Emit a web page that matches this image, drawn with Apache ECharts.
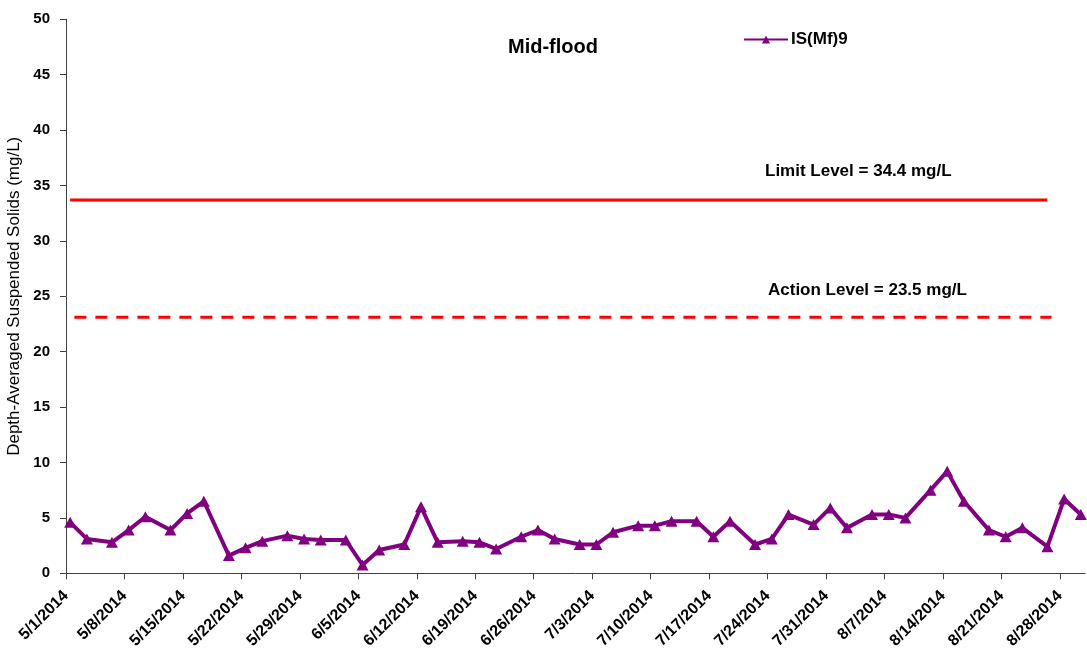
<!DOCTYPE html>
<html>
<head>
<meta charset="utf-8">
<script src="https://cdn.jsdelivr.net/npm/echarts@6/dist/echarts.min.js"></script>
<style>
html,body{margin:0;padding:0;background:#fff;}
#chart{width:1087px;height:649px;}
</style>
</head>
<body>
<div id="chart"></div>
<script>
// ---- data ----
const seriesName = "IS(Mf)9";
const dates = ["5/1/2014","5/3/2014","5/6/2014","5/8/2014","5/10/2014","5/13/2014","5/15/2014","5/17/2014","5/20/2014","5/22/2014","5/24/2014","5/27/2014","5/29/2014","5/31/2014",
  "6/3/2014","6/5/2014","6/7/2014","6/10/2014","6/12/2014","6/14/2014","6/17/2014","6/19/2014","6/21/2014","6/24/2014","6/26/2014","6/28/2014",
  "7/1/2014","7/3/2014","7/5/2014","7/8/2014","7/10/2014","7/12/2014","7/15/2014","7/17/2014","7/19/2014","7/22/2014","7/24/2014","7/26/2014","7/29/2014","7/31/2014",
  "8/2/2014","8/5/2014","8/7/2014","8/9/2014","8/12/2014","8/14/2014","8/16/2014","8/19/2014","8/21/2014","8/23/2014","8/26/2014","8/28/2014","8/30/2014"];
const values = [4.6,3.1,2.8,3.9,5.1,3.9,5.4,6.5,1.6,2.3,2.9,3.4,3.1,3.0,
  3.0,0.75,2.1,2.6,6.0,2.8,2.9,2.8,2.2,3.3,3.9,3.1,
  2.6,2.6,3.7,4.3,4.3,4.7,4.7,3.3,4.7,2.6,3.1,5.3,4.4,5.9,
  4.1,5.3,5.3,5.0,7.5,9.2,6.5,3.9,3.3,4.1,2.4,6.7,5.3];
const tickDates = ["5/1/2014","5/8/2014","5/15/2014","5/22/2014","5/29/2014","6/5/2014","6/12/2014","6/19/2014","6/26/2014","7/3/2014","7/10/2014","7/17/2014","7/24/2014","7/31/2014","8/7/2014","8/14/2014","8/21/2014","8/28/2014"];
const axisStartDate = "5/1/2014";
const axisEndDate = "8/31/2014";
const yTicks = [0,5,10,15,20,25,30,35,40,45,50];
const limitDates = ["5/1/2014","8/26/2014"];
const limitValue = 33.7;
const actionDates = ["5/2/2014","8/27/2014"];
const actionValue = 23.1;
const titleText = "Mid-flood";
const yAxisName = "Depth-Averaged Suspended Solids (mg/L)";
const limitText = "Limit Level = 34.4 mg/L";
const actionText = "Action Level = 23.5 mg/L";

// ---- helpers ----
function parseDate(s){const p=s.split("/").map(Number);return Date.UTC(p[2],p[0]-1,p[1]);}
const t0 = parseDate(axisStartDate);
function dayOf(s){return Math.round((parseDate(s)-t0)/86400000);}
function dayToLabel(v){const d=new Date(t0+Math.round(v)*86400000);return (d.getUTCMonth()+1)+"/"+d.getUTCDate()+"/"+d.getUTCFullYear();}

const tickDays = tickDates.map(dayOf);
const mainData = dates.map((d,i)=>[dayOf(d)+0.5, values[i]]);
const limitData = limitDates.map(d=>[dayOf(d)+0.5, limitValue]);
const actionData = actionDates.map(d=>[dayOf(d), actionValue]);

const FONT = "Liberation Sans, Arial, sans-serif";
const chart = echarts.init(document.getElementById("chart"), null, {renderer:"canvas"});
chart.setOption({
  animation:false,
  backgroundColor:"#fff",
  textStyle:{fontFamily:FONT},
  title:{text:titleText,left:503,top:32,textStyle:{fontFamily:FONT,fontSize:20,fontWeight:"bold",color:"#000"}},
  legend:{data:[seriesName],left:743,top:31,padding:0,itemWidth:44,itemHeight:10,
    textStyle:{fontFamily:FONT,fontSize:17,fontWeight:"bold",color:"#000",padding:[0,0,0,-2]}},
  grid:{left:66,right:2,top:19.3,bottom:75.7,outerBoundsMode:"none",containLabel:false},
  xAxis:{type:"value",min:0,max:dayOf(axisEndDate),
    axisLine:{show:true,lineStyle:{color:"#404040",width:1}},
    axisTick:{show:true,inside:false,length:6,customValues:tickDays,lineStyle:{color:"#404040"}},
    axisLabel:{customValues:tickDays,rotate:45,margin:20,fontFamily:FONT,fontSize:16,fontWeight:"bold",color:"#000",formatter:dayToLabel},
    splitLine:{show:false}},
  yAxis:{type:"value",min:yTicks[0],max:yTicks[yTicks.length-1],interval:yTicks[1]-yTicks[0],
    name:yAxisName,nameLocation:"middle",nameGap:39,
    nameTextStyle:{fontFamily:FONT,fontSize:17,color:"#000"},
    axisLine:{show:true,lineStyle:{color:"#404040",width:1}},
    axisTick:{show:true,inside:false,length:6,lineStyle:{color:"#404040"}},
    axisLabel:{margin:16,fontFamily:FONT,fontSize:15,fontWeight:"bold",color:"#000"},
    splitLine:{show:false}},
  graphic:[
    {type:"text",left:765,top:163,style:{text:limitText,fontFamily:FONT,fontSize:17,fontWeight:"bold",fill:"#000"}},
    {type:"text",left:768,top:282,style:{text:actionText,fontFamily:FONT,fontSize:17,fontWeight:"bold",fill:"#000"}}
  ],
  series:[
    {name:"Limit",type:"line",data:limitData,symbol:"none",silent:true,
      lineStyle:{color:"#ff0000",width:3},z:1},
    {name:"Action",type:"line",data:actionData,symbol:"none",silent:true,
      lineStyle:{color:"#ff0000",width:3,type:[12,9]},z:1},
    {name:seriesName,type:"line",data:mainData,symbol:"triangle",symbolSize:[12,11],
      lineStyle:{color:"#800080",width:4},itemStyle:{color:"#800080"},z:3}
  ]
});
</script>
</body>
</html>
